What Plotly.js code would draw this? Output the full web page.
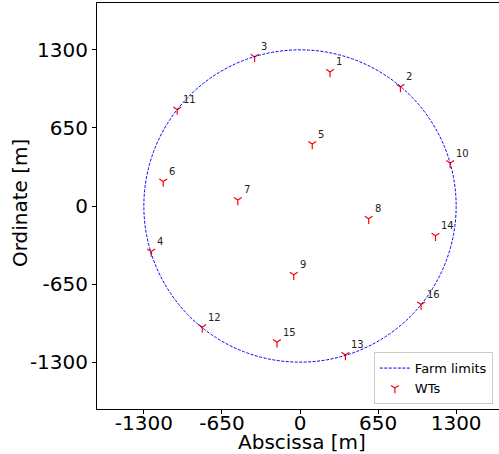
<!DOCTYPE html>
<html>
<head>
<meta charset="utf-8">
<script src="https://cdn.plot.ly/plotly-3.0.1.min.js"></script>
<style>
html, body { margin: 0; padding: 0; overflow: hidden; background: #fff; }
#chart { width: 503px; height: 454px; }
</style>
</head>
<body>
<div id="chart"></div>
<script>
// Wind turbine data
const turbineIds = ["1","2","3","4","5","6","7","8","9","10","11","12","13","14","15","16"];
const turbineX = [250, 836, -378, -1239, 102, -1139, -518, 572, -52, 1250, -1022, -814, 378, 1128, -192, 1008];
const turbineY = [1116, 991, 1241, -379, 516, 204, 50, -107, -573, 358, 802, -1009, -1240, -248, -1134, -821];
const farmRadius = 1300;
const tickVals = [-1300, -650, 0, 650, 1300];
const tickText = ["-1300", "-650", "0", "650", "1300"];
const axisLimit = 1690;
const xTitle = "Abscissa [m]";
const yTitle = "Ordinate [m]";

const font = "DejaVu Sans, sans-serif";

const traces = [
  {
    x: [null], y: [null],
    type: "scatter", mode: "lines",
    name: "Farm limits",
    line: { color: "blue", width: 1, dash: "3px,1.5px" },
    hoverinfo: "skip"
  },
  {
    x: turbineX, y: turbineY,
    type: "scatter", mode: "markers",
    name: "WTs",
    marker: { symbol: "y-down", size: 6.5, color: "red", line: { color: "red", width: 1.2 } }
  }
];

const labelAnnotations = turbineIds.map((t, i) => ({
  x: turbineX[i], y: turbineY[i], xref: "x", yref: "y",
  text: t, showarrow: false,
  xanchor: "left", yanchor: "bottom",
  xshift: 4, yshift: 2.5,
  font: { family: font, size: 10, color: "#222" }
}));

const titleAnnotations = [
  {
    xref: "paper", yref: "paper", x: 0.505, y: -0.081,
    xanchor: "center", yanchor: "middle", showarrow: false,
    text: xTitle, font: { family: font, size: 20, color: "#000" }
  },
  {
    xref: "paper", yref: "paper", x: -0.19, y: 0.507,
    xanchor: "center", yanchor: "middle", showarrow: false, textangle: -90,
    text: yTitle, font: { family: font, size: 20, color: "#000" }
  }
];

const axisCommon = {
  range: [-axisLimit, axisLimit],
  tickvals: tickVals,
  ticktext: tickText,
  ticks: "outside",
  ticklen: 4,
  tickwidth: 1,
  tickcolor: "#000",
  showline: true,
  linecolor: "#000",
  linewidth: 1,
  mirror: true,
  showgrid: false,
  zeroline: false,
  tickfont: { family: font, size: 20, color: "#000" }
};

const layout = {
  width: 503,
  height: 454,
  margin: { l: 97, r: 0, t: 3, b: 45 },
  paper_bgcolor: "#fff",
  plot_bgcolor: "#fff",
  showlegend: true,
  xaxis: Object.assign({}, axisCommon, { ticklabelstandoff: -8 }),
  yaxis: Object.assign({}, axisCommon),
  annotations: labelAnnotations.concat(titleAnnotations),
  shapes: [
    {
      type: "circle", xref: "x", yref: "y",
      x0: -farmRadius, x1: farmRadius, y0: -farmRadius, y1: farmRadius,
      line: { color: "blue", width: 1, dash: "3px,1.5px" }
    }
  ],
  legend: {
    x: 0.975, y: 0.012, xanchor: "right", yanchor: "bottom",
    bgcolor: "rgba(255,255,255,0.85)",
    bordercolor: "#cccccc", borderwidth: 1,
    font: { family: font, size: 13, color: "#000" },
    tracegroupgap: 0
  }
};

Plotly.newPlot("chart", traces, layout, { displayModeBar: false, staticPlot: true });
</script>
</body>
</html>
